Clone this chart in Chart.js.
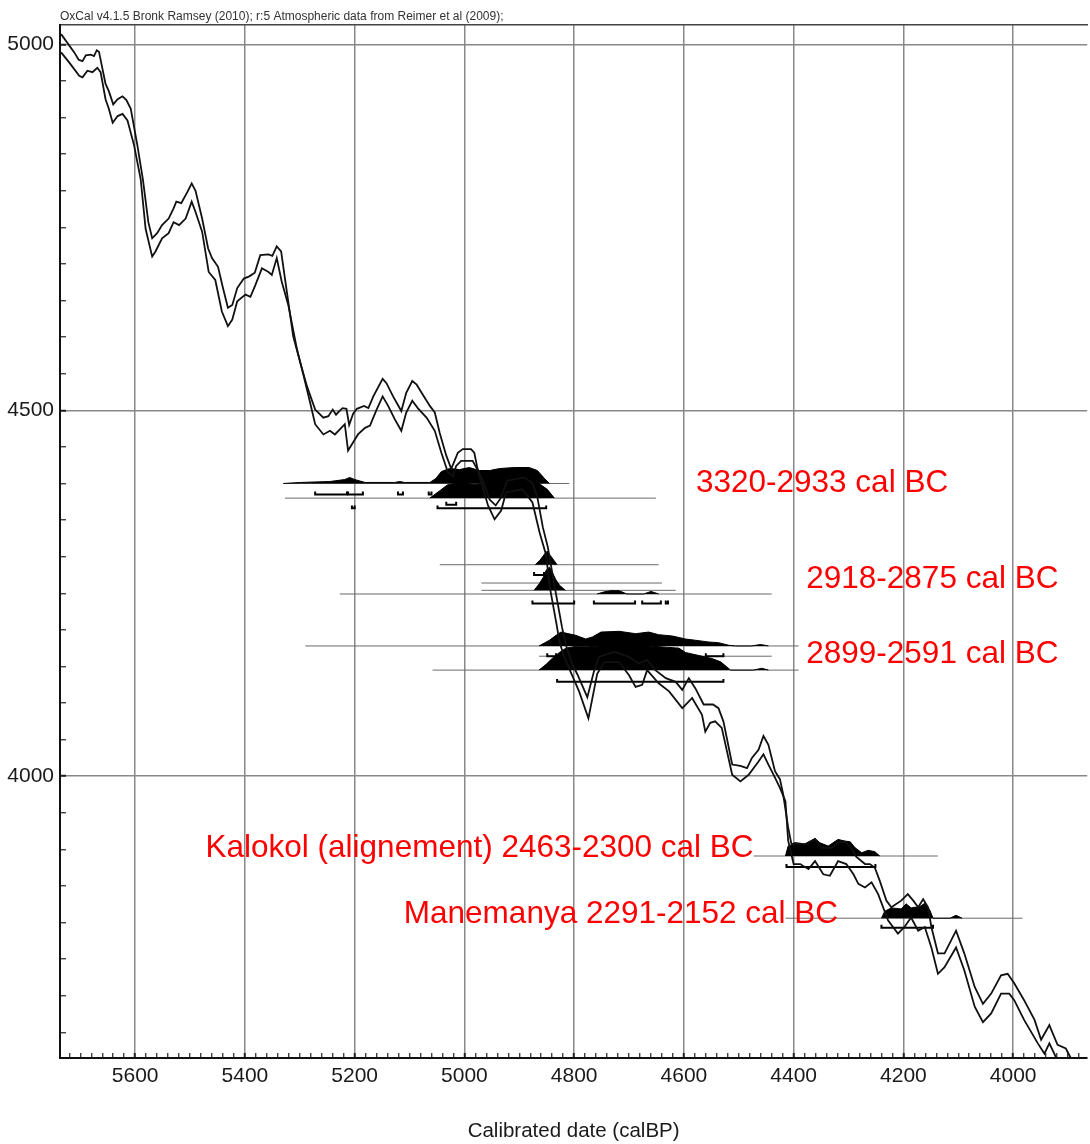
<!DOCTYPE html>
<html>
<head>
<meta charset="utf-8">
<script src="https://cdn.jsdelivr.net/npm/chart.js@4.4.0/dist/chart.umd.min.js"></script>
<style>
html,body{margin:0;padding:0;background:#fff;}
canvas{display:block;}
</style>
</head>
<body>
<canvas id="c" width="1090" height="1144"></canvas>
<script>
// ---------- DATA ----------
const headerText = 'OxCal v4.1.5 Bronk Ramsey (2010); r:5 Atmospheric data from Reimer et al (2009);';
const xTitle = 'Calibrated date (calBP)';
const xTickLabels = [5600,5400,5200,5000,4800,4600,4400,4200,4000];
const yTickLabels = [5000,4500,4000];

// calibration curve, upper envelope (cal BP, 14C BP)
const upperCal = [5735,5711,5703,5696,5690,5681,5675,5670,5666,5654,5648,5640,5632,5623,5616,5608,5596,5586,5576,5569,5560,5551,5539,5530,5525,5516,5505,5497,5490,5478,5467,5460,5449,5440,5431,5423,5414,5402,5392,5382,5372,5357,5350,5342,5334,5327,5312,5299,5287,5272,5257,5248,5240,5234,5228,5222,5215,5210,5203,5196,5183,5175,5166,5149,5142,5130,5115,5106,5095,5087,5078,5063,5054,5045,5033,5024,5018,5012,5003,4988,4982,4976,4965,4954,4943,4933,4922,4891,4876,4867,4857,4848,4836,4822,4814,4805,4794,4776,4764,4755,4727,4700,4682,4667,4652,4633,4615,4603,4591,4579,4564,4547,4537,4528,4512,4497,4485,4476,4464,4455,4446,4434,4425,4419,4410,4404,4397,4379,4361,4349,4331,4319,4307,4295,4286,4270,4261,4252,4243,4231,4222,4204,4192,4182,4173,4164,4155,4149,4137,4125,4104,4089,4070,4055,4040,4022,4010,3998,3980,3961,3949,3934,3928,3919,3904,3895];
const upperC14 = [5014,4989,4979,4977,4985,4986,4984,4992,4990,4946,4936,4918,4925,4929,4924,4912,4862,4816,4757,4735,4742,4753,4762,4776,4785,4783,4798,4810,4800,4762,4721,4708,4696,4667,4640,4644,4667,4680,4683,4688,4712,4713,4711,4724,4717,4680,4601,4565,4533,4501,4490,4492,4501,4494,4499,4503,4502,4480,4495,4502,4506,4503,4519,4543,4537,4519,4499,4524,4540,4535,4524,4506,4497,4469,4438,4420,4431,4442,4447,4447,4442,4420,4401,4378,4370,4381,4404,4408,4401,4381,4340,4313,4261,4203,4177,4156,4139,4108,4143,4163,4170,4163,4154,4159,4145,4134,4129,4118,4134,4120,4098,4098,4093,4075,4016,4014,4011,4025,4036,4055,4043,4007,3996,3975,3930,3907,3909,3907,3914,3902,3902,3909,3911,3902,3890,3880,3880,3875,3857,3830,3821,3830,3839,3830,3821,3832,3821,3794,3758,3758,3789,3758,3712,3689,3703,3728,3730,3717,3694,3667,3640,3660,3649,3633,3628,3615];

// calibration curve, lower envelope
const lowerCal = [5735,5720,5702,5696,5687,5678,5669,5663,5654,5648,5641,5632,5623,5614,5602,5590,5581,5569,5563,5551,5539,5530,5520,5508,5497,5490,5478,5466,5454,5442,5431,5423,5414,5399,5390,5381,5369,5357,5351,5342,5333,5321,5305,5293,5281,5272,5257,5245,5236,5227,5218,5212,5203,5194,5181,5172,5160,5149,5139,5127,5115,5106,5095,5085,5069,5054,5042,5030,5021,5015,5006,4985,4977,4969,4957,4945,4933,4924,4894,4876,4863,4851,4845,4831,4827,4818,4809,4791,4774,4758,4745,4718,4700,4688,4676,4667,4646,4627,4603,4594,4585,4567,4561,4552,4543,4531,4512,4497,4482,4464,4455,4446,4434,4425,4415,4410,4400,4388,4373,4361,4346,4334,4319,4304,4291,4282,4270,4258,4246,4228,4210,4198,4186,4173,4161,4149,4137,4125,4104,4089,4070,4055,4040,4022,4007,3998,3980,3955,3943,3934,3925,3916];
const lowerC14 = [4989,4975,4957,4955,4964,4962,4968,4962,4925,4912,4893,4902,4905,4896,4862,4816,4748,4710,4717,4735,4742,4757,4753,4762,4785,4771,4744,4689,4678,4635,4615,4624,4649,4658,4655,4671,4694,4689,4685,4708,4676,4644,4583,4547,4510,4481,4467,4472,4467,4474,4481,4445,4456,4467,4476,4479,4501,4519,4506,4488,4472,4497,4513,4503,4490,4472,4442,4415,4410,4424,4431,4431,4420,4401,4370,4351,4363,4388,4392,4374,4333,4302,4261,4203,4184,4163,4147,4116,4079,4140,4156,4156,4138,4122,4125,4145,4127,4116,4093,4100,4107,4084,4061,4073,4075,4066,4002,3993,4002,4020,4030,4016,3998,3984,3966,3912,3880,3880,3873,3884,3866,3864,3884,3880,3866,3853,3848,3855,3839,3803,3785,3794,3807,3789,3794,3766,3730,3739,3766,3735,3685,3664,3676,3703,3703,3694,3667,3635,3621,3635,3621,3606];

// probability distributions: dates (cal BP) and heights above their baseline (14C yr)
const distACal = [5330,5299,5245,5218,5209,5200,5181,5127,5118,5109,5063,5052,5042,5027,5009,4991,4973,4954,4936,4909,4882,4867,4854,4845];
const distAH   = [0,1.4,2.7,5.4,8.2,5.4,1.4,1.4,2.7,1.4,1.4,6.8,16.3,20.4,19,21.8,17.7,17.7,20.4,21.8,21.8,17.7,6.8,0];
const distBCal = [5063,5045,5031,5018,5000,4982,4954,4927,4900,4864,4849,4836];
const distBH   = [0,10,18,20,20,19,20,20,21,20,12,0];
const distCCal = [4871,4862,4854,4849,4844,4836,4831];
const distCH   = [0,6.4,14.6,18.6,13.2,5,0];
const distECal = [4873,4864,4856,4851,4845,4840,4834,4827,4816];
const distEH   = [0,8.6,18.1,27.6,31.7,24.9,15.4,7.2,0];
const distFCal = [4758,4745,4733,4718,4704,4690,4673,4660,4646];
const distFH   = [0,3,4.5,4.5,0,0,0,3.5,0];
const distGCal = [4864,4845,4833,4824,4797,4779,4767,4751,4718,4688,4664,4646,4621,4597,4579,4555,4537,4518,4506,4477,4460,4446];
const distGH   = [0,7.8,14.5,19,14.5,9.5,12.2,19,20,16.8,19,15.4,13.6,9.5,7.8,5.4,4.5,0.9,0,0,2,0];
const distICal = [4864,4851,4840,4827,4815,4800,4773,4755,4718,4664,4609,4597,4567,4549,4533,4522,4515,4473,4458,4446];
const distIH   = [0,8,16,24,30,32,32,33,33,33,30,24,19,15.8,11.3,4.5,0,0,2.5,0];
const distJCal = [4415,4410,4397,4379,4361,4352,4337,4319,4307,4297,4288,4276,4264,4252,4243];
const distJH   = [0,13.6,15.9,16.7,24,18,13.6,22.7,20.4,19.5,11.3,4.5,7.8,5.9,0];
const distKCal = [4240,4234,4222,4204,4195,4186,4170,4161,4152,4146,4115,4104,4093];
const distKH   = [0,9.5,14.1,12.7,19.6,14.1,15.9,20.4,11.4,0,0,4,0];
const distLevels = [4400,4380,4289,4254,4249,4178,4145,3891,3806];

// thin baselines of each date
const baseLevel = [4400,4380,4289,4264,4254,4249,4178,4164,4145,3891,3806];
const baseFrom  = [5330,5327,5045,4969,4969,5227,5290,4864,5058,4473,4415];
const baseTo    = [4809,4651,4646,4640,4615,4440,4391,4440,4391,4137,3983];

// range bars (level, from, to)
const rangeLevel = [4385,4385,4385,4385,4371,4366,4366,4275,4236,4236,4236,4236,4164,4164,4129,3876,3793];
const rangeFrom  = [5272,5212,5121,5065,5033,5049,5205,4873,4876,4764,4676,4633,4849,4560,4831,4413,4240];
const rangeTo    = [5214,5185,5112,5060,5015,4851,5200,4855,4800,4689,4642,4629,4833,4528,4528,4251,4146];

// red annotation labels
const labelTexts = ['3320-2933 cal BC','2918-2875 cal BC','2899-2591 cal BC','Kalokol (alignement) 2463-2300 cal BC','Manemanya 2291-2152 cal BC'];
const labelCal   = [4578,4377,4377,4473,4319];
const labelC14   = [4400,4269,4166,3901,3811];
const labelAlign = ['left','left','left','right','right'];

// ---------- BUILD ----------
const pts = (xs, ys) => xs.map((v,i)=>({x:v, y:ys[i]}));
const datasets = [];
datasets.push({data: pts(upperCal, upperC14), borderColor:'#111', borderWidth:1.8, order:0});
datasets.push({data: pts(lowerCal, lowerC14), borderColor:'#111', borderWidth:1.8, order:0});

const dists = [[distACal,distAH],[distBCal,distBH],[distCCal,distCH],[distECal,distEH],[distFCal,distFH],[distGCal,distGH],[distICal,distIH],[distJCal,distJH],[distKCal,distKH]];
dists.forEach(([c,h],k)=>{
  const lvl = distLevels[k];
  datasets.push({data: c.map((v,i)=>({x:v, y:lvl+h[i]})), borderColor:'#000', borderWidth:1, backgroundColor:'#000', fill:{value:lvl}, order:2});
});
baseLevel.forEach((lvl,i)=>{
  datasets.push({data:[{x:baseFrom[i],y:lvl},{x:baseTo[i],y:lvl}], borderColor:'#6a6a6a', borderWidth:1, order:3});
});
const hook = 4;
rangeLevel.forEach((lvl,i)=>{
  datasets.push({data:[{x:rangeFrom[i],y:lvl+hook},{x:rangeFrom[i],y:lvl},{x:rangeTo[i],y:lvl},{x:rangeTo[i],y:lvl+hook}], borderColor:'#000', borderWidth:2, order:1});
});

const labelPlugin = {
  id:'redLabels',
  afterDatasetsDraw(chart){
    const {ctx, scales:{x,y}} = chart;
    ctx.save();
    ctx.font = '31.5px "Liberation Sans", Arial, sans-serif';
    ctx.fillStyle = '#ff0000';
    ctx.textBaseline = 'middle';
    labelTexts.forEach((t,i)=>{
      ctx.textAlign = labelAlign[i];
      ctx.fillText(t, x.getPixelForValue(labelCal[i]), y.getPixelForValue(labelC14[i]));
    });
    ctx.restore();
  }
};

const isMajorX = v => Math.round(v) % 200 === 0;
const isMajorY = v => Math.round(v) % 500 === 0;

new Chart(document.getElementById('c').getContext('2d'), {
  type:'line',
  data:{datasets},
  options:{
    responsive:false, animation:false, devicePixelRatio:1,
    layout:{padding:0},
    elements:{point:{radius:0}, line:{tension:0}},
    plugins:{legend:{display:false}, tooltip:{enabled:false}},
    scales:{
      x:{
        type:'linear', position:'bottom', reverse:true, min:3865, max:5737,
        ticks:{stepSize:20, includeBounds:false, autoSkip:false, maxRotation:0, padding:11,
          color:'#1a1a1a', font:{family:"'Liberation Sans',Arial,sans-serif", size:21},
          callback:v=> xTickLabels.includes(Math.round(v)) ? String(Math.round(v)) : ''},
        grid:{drawTicks:true, tickLength:-5,
          color:c=> c.tick && isMajorX(c.tick.value) ? '#888' : 'rgba(0,0,0,0)',
          lineWidth:1.5,
          tickColor:'#222', tickWidth:c=> c.tick && isMajorX(c.tick.value) ? 2 : 1.2},
        border:{display:true, color:'#111', width:2},
        title:{display:true, text:xTitle, color:'#1a1a1a', font:{family:"'Liberation Sans',Arial,sans-serif", size:20.5}, padding:{top:0,bottom:0}},
        afterFit:s=>{ s.height = 86; }
      },
      xTop:{
        type:'linear', position:'top', min:3865, max:5737,
        ticks:{display:false},
        grid:{display:false},
        border:{display:true, color:'#444', width:1.5},
        title:{display:true, text:headerText, align:'start', color:'#333', font:{family:"'Liberation Sans',Arial,sans-serif", size:12}, padding:{top:5,bottom:0}},
        afterFit:s=>{ s.height = 20; }
      },
      y:{
        type:'linear', position:'left', min:3615, max:5027,
        ticks:{stepSize:50, includeBounds:false, autoSkip:false, padding:12,
          color:'#1a1a1a', font:{family:"'Liberation Sans',Arial,sans-serif", size:21},
          callback:v=> yTickLabels.includes(Math.round(v)) ? String(Math.round(v)) : ''},
        grid:{drawTicks:true, tickLength:-6,
          color:c=> c.tick && isMajorY(c.tick.value) ? '#888' : 'rgba(0,0,0,0)',
          lineWidth:1.5,
          tickColor:'#222', tickWidth:c=> c.tick && isMajorY(c.tick.value) ? 2 : 1.2},
        border:{display:true, color:'#111', width:2},
        afterFit:s=>{ s.width = 60; }
      }
    }
  },
  plugins:[labelPlugin]
});
</script>
</body>
</html>
